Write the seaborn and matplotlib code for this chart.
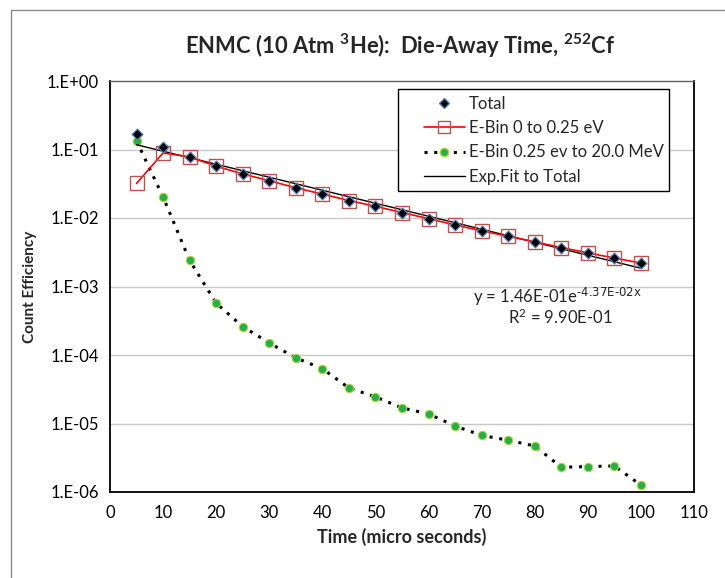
import numpy as np
import pandas as pd
import matplotlib
matplotlib.use("Agg")
import matplotlib.pyplot as plt
from matplotlib.ticker import LogLocator, MultipleLocator, NullFormatter
from matplotlib.lines import Line2D
from matplotlib.patches import Rectangle
import seaborn as sns

# Die-away measurements (time in microseconds, count efficiency)
time_us = [5, 10, 15, 20, 25, 30, 35, 40, 45, 50, 55, 60, 65, 70, 75, 80, 85, 90, 95, 100]
total = [0.168, 0.109, 0.078, 0.057, 0.044, 0.035, 0.0276, 0.0223, 0.018, 0.0148,
         0.012, 0.0098, 0.0079, 0.0065, 0.0054, 0.0045, 0.0037, 0.0031, 0.0026, 0.0022]
ebin_low = [0.032, 0.089, 0.078, 0.057, 0.044, 0.035, 0.0276, 0.0223, 0.018, 0.0148,
            0.012, 0.0098, 0.0079, 0.0065, 0.0054, 0.0045, 0.0037, 0.0031, 0.0026, 0.0022]
ebin_high = [0.133, 0.0203, 0.0024, 5.7e-4, 2.6e-4, 1.5e-4, 9.1e-5, 6.3e-5, 3.3e-5, 2.45e-5,
             1.69e-5, 1.38e-5, 9.2e-6, 6.7e-6, 5.7e-6, 4.7e-6, 2.3e-6, 2.35e-6, 2.4e-6, 1.26e-6]

# Exponential fit to the total: y = A * exp(k * t)
fit_A = 1.46e-01
fit_k = -4.37e-02
fit_r2 = 9.90e-01

y_ticks = [1e0, 1e-1, 1e-2, 1e-3, 1e-4, 1e-5, 1e-6]
y_tick_labels = ["1.E+00", "1.E-01", "1.E-02", "1.E-03", "1.E-04", "1.E-05", "1.E-06"]
x_ticks = [0, 10, 20, 30, 40, 50, 60, 70, 80, 90, 100, 110]

df = pd.DataFrame({"t": time_us, "total": total, "low": ebin_low, "high": ebin_high})
df["fit"] = fit_A * np.exp(fit_k * df["t"])

sns.set_style("white")
plt.rcParams["font.family"] = ["Lato", "DejaVu Sans"]
plt.rcParams["axes.unicode_minus"] = False

W, H = 725, 578
fig = plt.figure(figsize=(W / 100, H / 100), dpi=100)
# Chart-area frame (top and left edges)
frame_x = 10.5 / W
frame_y = 1 - 9.5 / H
fig.add_artist(Line2D([frame_x, 1.0], [frame_y, frame_y], transform=fig.transFigure,
                      color="#8c8c8c", linewidth=1.0))
fig.add_artist(Line2D([frame_x, frame_x], [0.0, frame_y], transform=fig.transFigure,
                      color="#8c8c8c", linewidth=1.0))

ax = fig.add_axes([110 / W, 1 - 492 / H, 584 / W, 411 / H])

# Decade gridlines
for yt in y_ticks[1:]:
    ax.axhline(yt, color="#c8c8c8", linewidth=1.0, zorder=0)

sns.lineplot(data=df, x="t", y="high", ax=ax, color="black", linestyle=(0, (1, 2.2)),
             linewidth=2.2, marker="o", markersize=6, markerfacecolor="#1db34a",
             markeredgecolor="#b5d334", markeredgewidth=0.8, zorder=3)
sns.lineplot(data=df, x="t", y="fit", ax=ax, color="black", linewidth=1.0, zorder=4)
sns.lineplot(data=df, x="t", y="low", ax=ax, color="#ff0000", linewidth=1.2,
             marker="s", markersize=10, markerfacecolor="none",
             markeredgecolor="#c0504d", markeredgewidth=1.0, zorder=5)
sns.scatterplot(data=df, x="t", y="total", ax=ax, marker="D", s=30, color="black",
                edgecolor="#4f81bd", linewidth=0.9, zorder=6)

ax.set_yscale("log")
ax.set_xlim(0, 110)
ax.set_ylim(1e-6, 1e0)
ax.set_yticks(y_ticks)
ax.set_yticklabels(y_tick_labels)
ax.yaxis.set_minor_locator(LogLocator(base=10, subs=np.arange(2, 10)))
ax.yaxis.set_minor_formatter(NullFormatter())
ax.set_xticks(x_ticks)
ax.xaxis.set_minor_locator(MultipleLocator(2))

ax.tick_params(axis="both", which="major", direction="inout", length=8, width=1.0,
               labelsize=12, colors="black", pad=4)
ax.tick_params(axis="both", which="minor", direction="in", length=5, width=1.0)
ax.tick_params(axis="x", which="major", pad=5)

for side in ["left", "bottom", "right"]:
    ax.spines[side].set_color("black")
    ax.spines[side].set_linewidth(1.3)
ax.spines["top"].set_color("#606060")
ax.spines["top"].set_linewidth(1.0)

ax.set_xlabel("Time (micro seconds)", fontsize=13, fontweight="bold", labelpad=5)
ax.set_ylabel("Count Efficiency", fontsize=11, fontweight="bold", labelpad=7)

fig.text(400 / W, 1 - 46 / H,
         r"ENMC (10 Atm $\mathregular{^{3}}$He):  Die-Away Time, $\mathregular{^{252}}$Cf",
         ha="center", va="center", fontsize=15.8, fontweight="bold")

# Fit equation and goodness of fit
ax.text(84.3, 7.0e-4, r"y = 1.46E-01e$\mathregular{^{\text{-4.37E-02x}}}$", fontsize=12,
        ha="center", va="center")
ax.text(84.8, 3.5e-4, r"R$\mathregular{^{2}}$ = 9.90E-01", fontsize=12,
        ha="center", va="center")

# Legend box: white panel with a thin black border, entries placed inside it
legend_box = Rectangle((398 / W, 1 - 191 / H), (669 - 398) / W, (191 - 89) / H,
                       transform=fig.transFigure, facecolor="white", edgecolor="black",
                       linewidth=1.0, zorder=7, clip_on=False)
ax.add_patch(legend_box)

handles = [
    Line2D([], [], linestyle="none", marker="D", markersize=5, markerfacecolor="black",
           markeredgecolor="#4f81bd"),
    Line2D([], [], color="#ff0000", linewidth=1.2, marker="s", markersize=8,
           markerfacecolor="none", markeredgecolor="#c0504d"),
    Line2D([], [], color="black", linestyle=(0, (1, 2.2)), linewidth=2.2, marker="o",
           markersize=6, markerfacecolor="#1db34a", markeredgecolor="#b5d334"),
    Line2D([], [], color="black", linewidth=1.0),
]
labels = ["Total", "E-Bin 0 to 0.25 eV", "E-Bin 0.25 ev to 20.0 MeV", "Exp.Fit to Total"]
leg = ax.legend(handles, labels, loc="upper left", bbox_to_anchor=(417 / W, 1 - 89 / H),
                bbox_transform=fig.transFigure, frameon=False, fontsize=12,
                handlelength=2.45, handletextpad=0.25, borderpad=0.4, labelspacing=0.5,
                borderaxespad=0)
leg.set_zorder(8)

fig.savefig("out.png", dpi=100)
